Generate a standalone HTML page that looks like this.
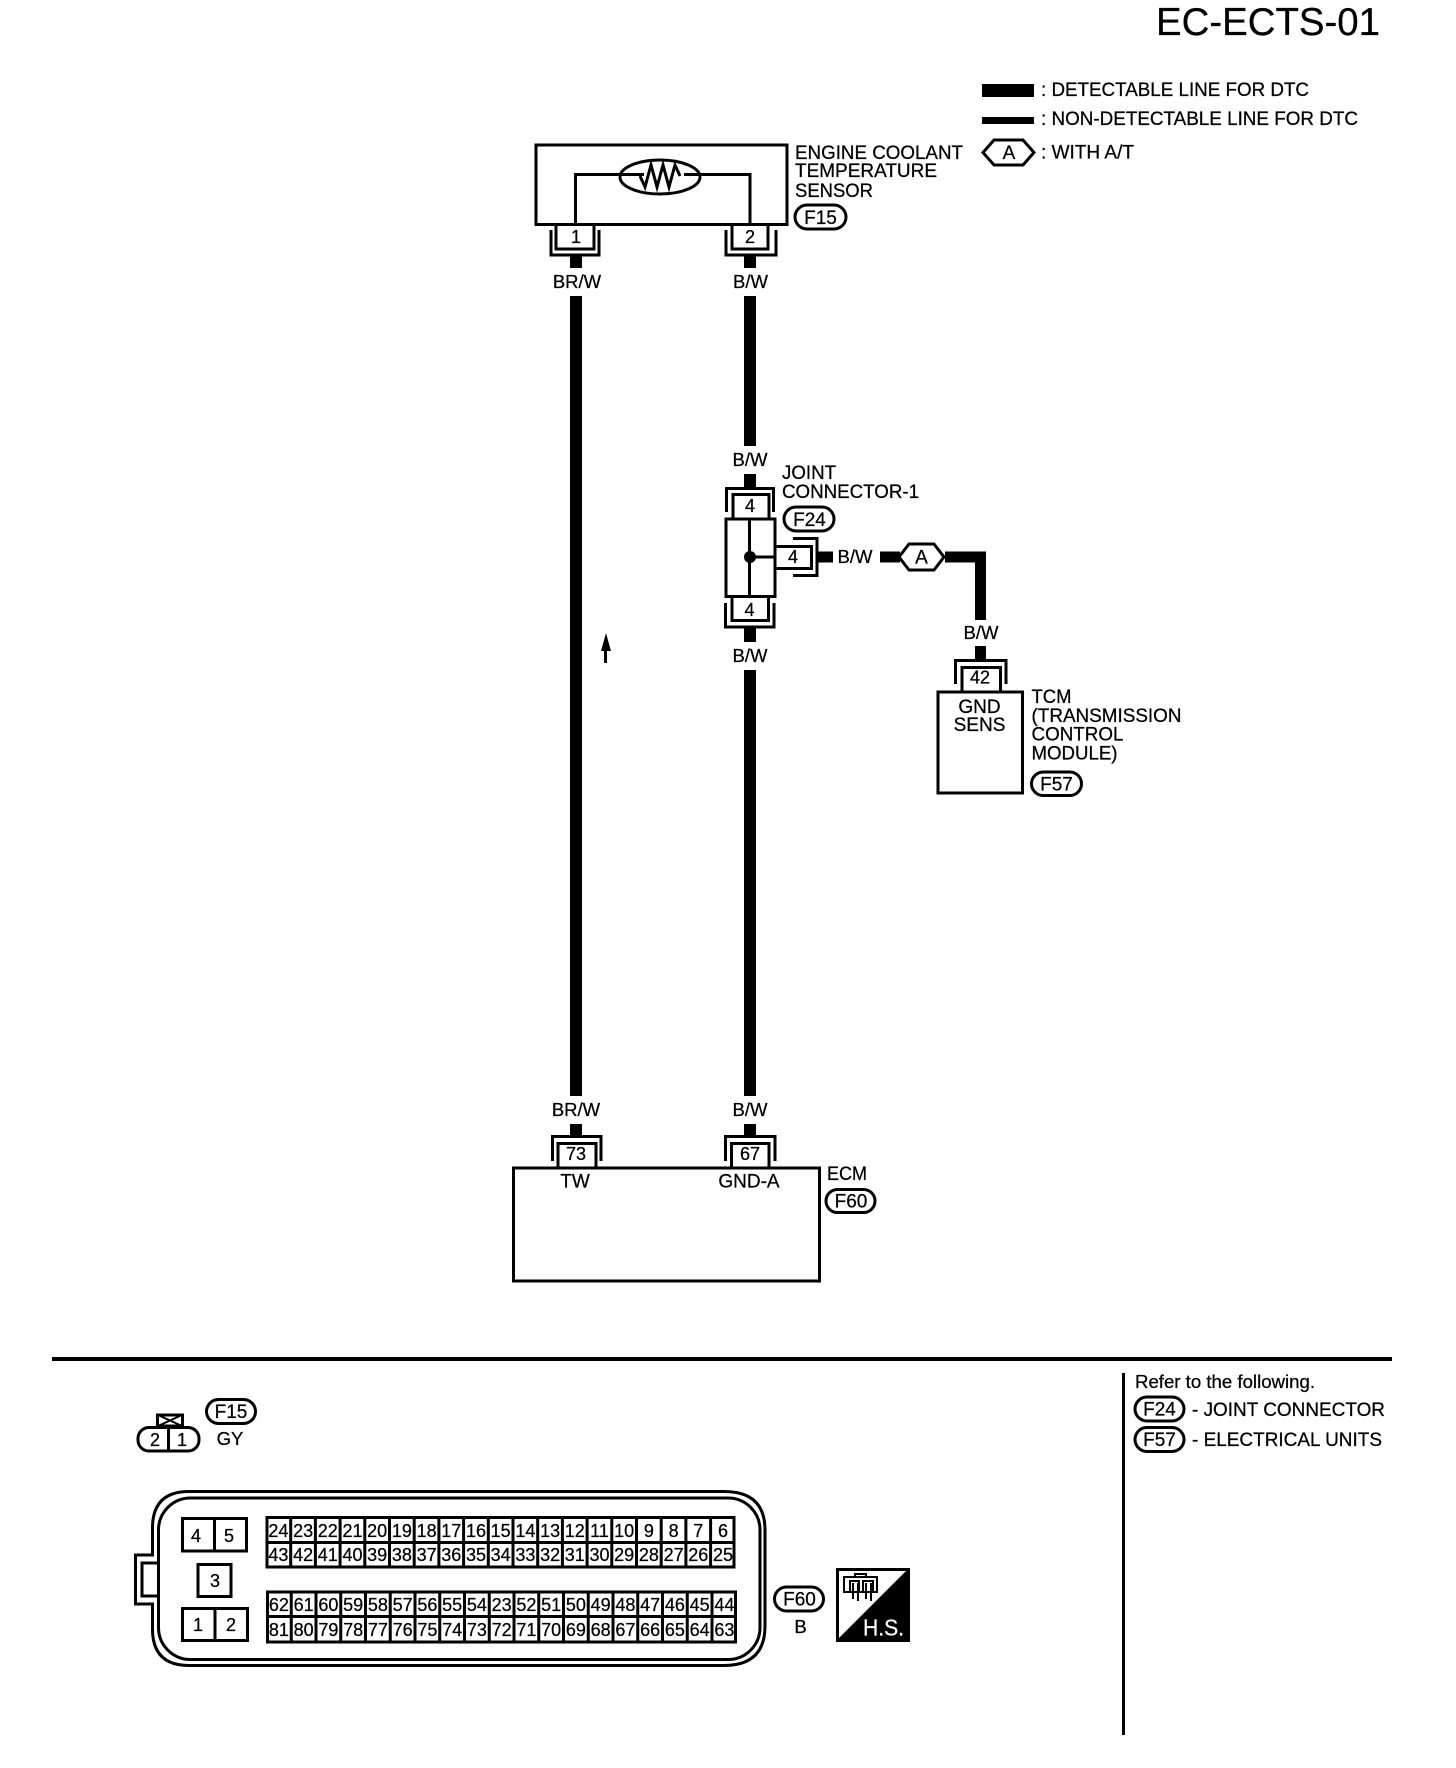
<!DOCTYPE html>
<html><head><meta charset="utf-8"><title>EC-ECTS-01</title>
<style>
html,body{margin:0;padding:0;background:#fff}
svg{display:block}
text{font-family:"Liberation Sans",sans-serif;fill:#000;stroke:#000;stroke-width:.25}
.s{fill:none;stroke:#000;stroke-width:3}
.t{font-size:19px}
.m{text-anchor:middle}
.n{font-size:18px;text-anchor:middle}
.g{font-size:18.5px;text-anchor:middle}
.w{fill:none;stroke:#000;stroke-width:12}
</style></head><body>
<svg width="1456" height="1768" viewBox="0 0 1456 1768" xmlns="http://www.w3.org/2000/svg">
<rect width="1456" height="1768" fill="#fff"/>

<!-- title / legend -->
<text x="1156" y="35" font-size="38.500" textLength="224" lengthAdjust="spacingAndGlyphs">EC-ECTS-01</text>
<rect x="982" y="84" width="52" height="13"/>
<rect x="982" y="117" width="52" height="7"/>
<text class="t" x="1041" y="96" textLength="268" lengthAdjust="spacingAndGlyphs">: DETECTABLE LINE FOR DTC</text>
<text class="t" x="1041" y="125" textLength="317" lengthAdjust="spacingAndGlyphs">: NON-DETECTABLE LINE FOR DTC</text>
<polygon class="s" points="983,152.5 994,140 1023,140 1034,152.5 1023,165 994,165"/>
<text class="t m" x="1009" y="159">A</text>
<text class="t" x="1041" y="158.500" textLength="93" lengthAdjust="spacingAndGlyphs">: WITH A/T</text>

<!-- sensor -->
<rect class="s" x="536" y="145" width="251" height="79.5"/>
<path class="s" d="M571.5,224V174.500H640M680,174.500H746V224" transform="translate(4,0)"/>
<ellipse class="s" cx="660" cy="177" rx="40" ry="17"/>
<path class="s" stroke-linejoin="miter" d="M640,176L645,187L651,165L657,187L663,165L669,187L675,165L680,176"/>
<text class="t" x="790" y="159" textLength="168" lengthAdjust="spacingAndGlyphs" transform="translate(5,0)">ENGINE COOLANT</text>
<text class="t" x="795" y="177" textLength="142" lengthAdjust="spacingAndGlyphs">TEMPERATURE</text>
<text class="t" x="795" y="197" textLength="78" lengthAdjust="spacingAndGlyphs">SENSOR</text>
<rect class="s" x="789" y="205" width="51" height="24" rx="12" transform="translate(6,0)"/>
<text class="t m" x="820.500" y="224">F15</text>

<!-- sensor connectors -->
<path class="s" d="M556,225V249H594V225M551,230V255H599V230"/>
<path class="s" d="M732,225V249H768V225M726,230V255H776V230"/>
<text class="n" x="576" y="243">1</text>
<text class="n" x="750" y="243">2</text>

<!-- wires -->
<path class="w" d="M576,255V268M576,296V1096M576,1124V1136"/>
<path class="w" d="M750,255V268M750,296V446M750,474V487M750,628V642M750,670V1096M750,1124V1136"/>
<text class="g" x="577" y="288">BR/W</text>
<text class="g" x="750.500" y="288">B/W</text>
<text class="g" x="750" y="466">B/W</text>
<text class="g" x="750" y="662">B/W</text>
<text class="g" x="576" y="1116">BR/W</text>
<text class="g" x="750" y="1116">B/W</text>

<!-- arrow -->
<polygon points="606,633 611,651 601,651"/>
<rect x="604" y="650" width="3" height="13"/>

<!-- joint connector -->
<path class="s" d="M726.500,512V488.500H773.500V512M733,518V494.500H769V518"/>
<text class="n" x="750" y="512">4</text>
<rect class="s" x="726" y="519" width="49" height="77.500"/>
<path class="s" d="M749.500,519V596M750,557H776"/>
<circle cx="750" cy="557" r="6"/>
<path class="s" d="M776,546.500H811.500V568.500H776"/>
<text class="n" x="793" y="563">4</text>
<path class="s" d="M793,538.500H817V575.500H793"/>
<path class="s" d="M732,597V620.500H768.500V597M725.500,603V627H774V603"/>
<text class="n" x="749.500" y="616">4</text>
<text class="t" x="782" y="479" textLength="54" lengthAdjust="spacingAndGlyphs">JOINT</text>
<text class="t" x="782" y="498" textLength="137" lengthAdjust="spacingAndGlyphs">CONNECTOR-1</text>
<rect class="s" x="784" y="507" width="50" height="24" rx="12"/>
<text class="t m" x="809.500" y="526">F24</text>

<!-- branch -->
<path fill="none" stroke="#000" stroke-width="11" d="M818,557H833M880,557H900M945,557H980.500V620M980.500,646V660"/>
<text class="g" x="855" y="563">B/W</text>
<polygon points="899,557 909,544 934,544 944,557 934,570 909,570" fill="#fff" stroke="#000" stroke-width="3"/>
<text class="t m" x="921.500" y="563.500" font-size="18">A</text>
<text class="g" x="981" y="639">B/W</text>

<!-- TCM -->
<path class="s" d="M955.500,684V660.500H1006V684M962,691V667.500H1000.500V691"/>
<text class="n" x="980" y="683.500">42</text>
<rect class="s" x="938" y="692" width="84.500" height="101"/>
<text class="t m" x="979.500" y="707" transform="translate(0,6)">GND</text>
<text class="t m" x="979.500" y="731">SENS</text>
<text class="t" x="1031.500" y="703" textLength="40" lengthAdjust="spacingAndGlyphs">TCM</text>
<text class="t" x="1031.500" y="722" textLength="150" lengthAdjust="spacingAndGlyphs">(TRANSMISSION</text>
<text class="t" x="1031.500" y="740.500" textLength="92" lengthAdjust="spacingAndGlyphs">CONTROL</text>
<text class="t" x="1031.500" y="759.500" textLength="86" lengthAdjust="spacingAndGlyphs">MODULE)</text>
<rect class="s" x="1031.500" y="772" width="50" height="23.500" rx="11.750"/>
<text class="t m" x="1056.500" y="790.500">F57</text>

<!-- ECM -->
<path class="s" d="M552.500,1161V1136.500H601V1161M558,1167V1143.500H596V1167"/>
<text class="n" x="576" y="1160">73</text>
<path class="s" d="M725.500,1161V1136.500H775V1161M731.500,1167V1143.500H769V1167"/>
<text class="n" x="750" y="1160">67</text>
<rect class="s" x="513.500" y="1168" width="306" height="113"/>
<text class="t m" x="575" y="1187.500">TW</text>
<text class="t m" x="749" y="1187.500">GND-A</text>
<text class="t" x="827" y="1180" textLength="40" lengthAdjust="spacingAndGlyphs">ECM</text>
<rect class="s" x="826" y="1189.500" width="49" height="23" rx="11.500"/>
<text class="t m" x="851" y="1207.500">F60</text>

<!-- separators -->
<rect x="52" y="1357" width="1340" height="4"/>
<rect x="1122" y="1373" width="3" height="362"/>
<text x="1135" y="1388" font-size="18" textLength="180" lengthAdjust="spacingAndGlyphs">Refer to the following.</text>
<rect class="s" x="1135" y="1397" width="49" height="24" rx="12"/>
<text class="t m" x="1159.500" y="1415.500">F24</text>
<text class="t" x="1192" y="1416" textLength="193" lengthAdjust="spacingAndGlyphs">- JOINT CONNECTOR</text>
<rect class="s" x="1135" y="1427.500" width="49" height="24" rx="12"/>
<text class="t m" x="1159.500" y="1446">F57</text>
<text class="t" x="1192" y="1446" textLength="190" lengthAdjust="spacingAndGlyphs">- ELECTRICAL UNITS</text>

<!-- F15 connector -->
<rect class="s" x="206.500" y="1399.500" width="49" height="24" rx="12"/>
<text class="t m" x="231" y="1418">F15</text>
<text class="g" x="230" y="1445">GY</text>
<rect class="s" x="157.500" y="1415" width="25" height="11"/>
<path fill="none" stroke="#000" stroke-width="2" d="M158,1415L182,1426M182,1415L158,1426"/>
<rect class="s" x="138" y="1427.500" width="61" height="23.500" rx="11"/>
<path class="s" d="M168.500,1427V1451"/>
<text class="n" x="155" y="1446">2</text>
<text class="n" x="182" y="1446">1</text>

<!-- ECM connector -->
<path class="s" d="M152.500,1555V1528Q152.500,1491.500 189,1491.500H724Q765,1491.500 765,1530V1626Q765,1665.500 724,1665.500H189Q152.500,1665.500 152.500,1629V1604H135.500V1555Z"/>
<rect class="s" x="158.500" y="1498" width="601.500" height="161.500" rx="32"/>
<path class="s" d="M158,1563H142V1596H158"/>

<rect class="s" x="182.500" y="1518.500" width="64" height="32.500"/>
<path class="s" d="M214.500,1518V1551"/>
<text class="n" x="196" y="1542">4</text>
<text class="n" x="229" y="1542">5</text>
<rect class="s" x="198" y="1564.500" width="33" height="32"/>
<text class="n" x="215" y="1587">3</text>
<rect class="s" x="182.500" y="1608.500" width="65" height="32"/>
<path class="s" d="M215,1608V1641"/>
<text class="n" x="198" y="1631">1</text>
<text class="n" x="231" y="1631">2</text>

<rect class="s" x="267" y="1517.500" width="467" height="49.500"/>
<path class="s" stroke-width="2.500" d="M267,1542.500H734M290.700,1517V1567M315.400,1517V1567M340.100,1517V1567M364.800,1517V1567M389.500,1517V1567M414.200,1517V1567M438.900,1517V1567M463.600,1517V1567M488.300,1517V1567M513,1517V1567M537.700,1517V1567M562.400,1517V1567M587.100,1517V1567M611.800,1517V1567M636.500,1517V1567M661.200,1517V1567M685.900,1517V1567M710.600,1517V1567"/>
<rect class="s" x="267.500" y="1592" width="468" height="50"/>
<path class="s" stroke-width="2.500" d="M267,1616.500H735M291.250,1592V1642M316,1592V1642M340.750,1592V1642M365.500,1592V1642M390.250,1592V1642M415,1592V1642M439.750,1592V1642M464.500,1592V1642M489.250,1592V1642M514,1592V1642M538.750,1592V1642M563.500,1592V1642M588.250,1592V1642M613,1592V1642M637.750,1592V1642M662.500,1592V1642M687.250,1592V1642M712,1592V1642"/>

<g class="n">
<text class="n" x="278.400" y="1537">24</text><text class="n" x="303.100" y="1537">23</text><text class="n" x="327.800" y="1537">22</text><text class="n" x="352.500" y="1537">21</text><text class="n" x="377.200" y="1537">20</text><text class="n" x="401.900" y="1537">19</text><text class="n" x="426.600" y="1537">18</text><text class="n" x="451.300" y="1537">17</text><text class="n" x="476" y="1537">16</text><text class="n" x="500.700" y="1537">15</text><text class="n" x="525.400" y="1537">14</text><text class="n" x="550.100" y="1537">13</text><text class="n" x="574.800" y="1537">12</text><text class="n" x="599.500" y="1537">11</text><text class="n" x="624.200" y="1537">10</text><text class="n" x="648.900" y="1537">9</text><text class="n" x="673.600" y="1537">8</text><text class="n" x="698.300" y="1537">7</text><text class="n" x="723" y="1537">6</text>
<text class="n" x="278.400" y="1561">43</text><text class="n" x="303.100" y="1561">42</text><text class="n" x="327.800" y="1561">41</text><text class="n" x="352.500" y="1561">40</text><text class="n" x="377.200" y="1561">39</text><text class="n" x="401.900" y="1561">38</text><text class="n" x="426.600" y="1561">37</text><text class="n" x="451.300" y="1561">36</text><text class="n" x="476" y="1561">35</text><text class="n" x="500.700" y="1561">34</text><text class="n" x="525.400" y="1561">33</text><text class="n" x="550.100" y="1561">32</text><text class="n" x="574.800" y="1561">31</text><text class="n" x="599.500" y="1561">30</text><text class="n" x="624.200" y="1561">29</text><text class="n" x="648.900" y="1561">28</text><text class="n" x="673.600" y="1561">27</text><text class="n" x="698.300" y="1561">26</text><text class="n" x="723" y="1561">25</text>
<text class="n" x="278.900" y="1611">62</text><text class="n" x="303.600" y="1611">61</text><text class="n" x="328.400" y="1611">60</text><text class="n" x="353.100" y="1611">59</text><text class="n" x="377.900" y="1611">58</text><text class="n" x="402.600" y="1611">57</text><text class="n" x="427.400" y="1611">56</text><text class="n" x="452.100" y="1611">55</text><text class="n" x="476.900" y="1611">54</text><text class="n" x="501.600" y="1611">23</text><text class="n" x="526.400" y="1611">52</text><text class="n" x="551.100" y="1611">51</text><text class="n" x="575.900" y="1611">50</text><text class="n" x="600.600" y="1611">49</text><text class="n" x="625.400" y="1611">48</text><text class="n" x="650.100" y="1611">47</text><text class="n" x="674.900" y="1611">46</text><text class="n" x="699.600" y="1611">45</text><text class="n" x="724.400" y="1611">44</text>
<text class="n" x="278.900" y="1636">81</text><text class="n" x="303.600" y="1636">80</text><text class="n" x="328.400" y="1636">79</text><text class="n" x="353.100" y="1636">78</text><text class="n" x="377.900" y="1636">77</text><text class="n" x="402.600" y="1636">76</text><text class="n" x="427.400" y="1636">75</text><text class="n" x="452.100" y="1636">74</text><text class="n" x="476.900" y="1636">73</text><text class="n" x="501.600" y="1636">72</text><text class="n" x="526.400" y="1636">71</text><text class="n" x="551.100" y="1636">70</text><text class="n" x="575.900" y="1636">69</text><text class="n" x="600.600" y="1636">68</text><text class="n" x="625.400" y="1636">67</text><text class="n" x="650.100" y="1636">66</text><text class="n" x="674.900" y="1636">65</text><text class="n" x="699.600" y="1636">64</text><text class="n" x="724.400" y="1636">63</text>
</g>

<!-- F60 -->
<rect class="s" x="774.500" y="1587" width="49" height="24" rx="12"/>
<text class="t m" x="799.500" y="1605.500">F60</text>
<text class="g" x="800.500" y="1633">B</text>

<!-- H.S. -->
<rect x="836" y="1568" width="74" height="74"/>
<polygon points="839,1571 906,1571 839,1638" fill="#fff"/>
<path fill="none" stroke="#000" stroke-width="2" d="M844,1577H877V1592H844ZM850,1581H859V1592H850ZM863,1581H873V1592H863ZM855,1574H866V1577H855Z"/>
<path fill="none" stroke="#000" stroke-width="2" d="M853,1583V1599M858,1583V1601M866,1583V1599M871,1583V1601"/>
<text x="863" y="1635.500" font-size="23" textLength="41" lengthAdjust="spacingAndGlyphs" style="fill:#fff;stroke:#fff">H.S.</text>
</svg>
</body></html>
